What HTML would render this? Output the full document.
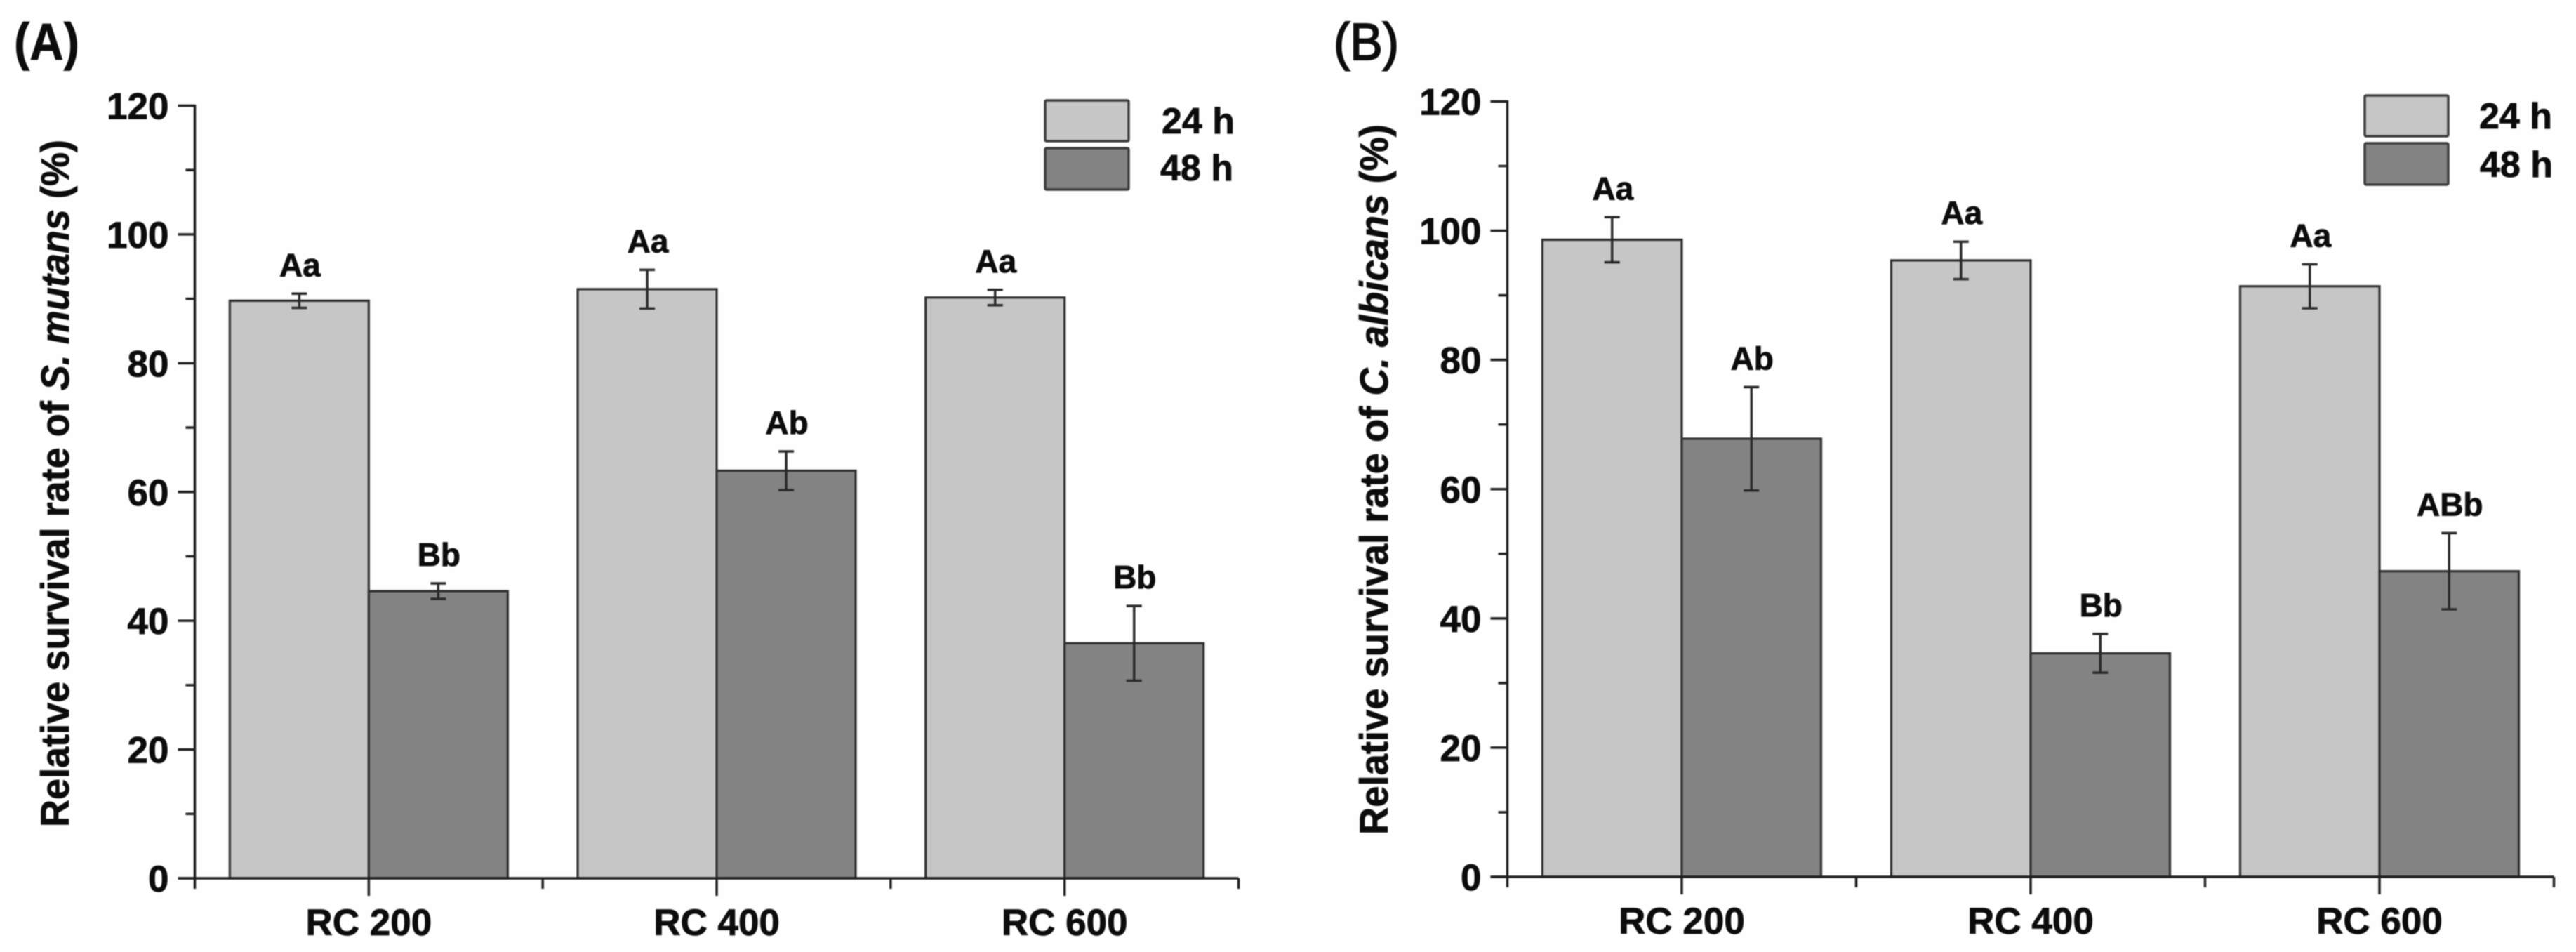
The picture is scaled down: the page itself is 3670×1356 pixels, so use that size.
<!DOCTYPE html>
<html lang="en">
<head>
<meta charset="utf-8">
<title>Relative survival rate of S. mutans and C. albicans</title>
<style>
  html, body { margin: 0; padding: 0; background: #fefefe; }
  body { width: 3670px; height: 1356px; overflow: hidden; }
  svg { display: block; filter: blur(0.9px); }
  text { font-family: "Liberation Sans", sans-serif; fill: #0c0c0c; stroke: #0c0c0c; stroke-width: 0.8px; }
  .bold { font-weight: bold; }
</style>
</head>
<body>
<svg id="figure" xmlns="http://www.w3.org/2000/svg" width="3670" height="1356" viewBox="0 0 3670 1356">
  <text class="bold" x="20" y="85" font-size="74" textLength="93" lengthAdjust="spacingAndGlyphs">(A)</text>
  <text x="1900" y="85" font-size="74" style="stroke-width:2px" textLength="93" lengthAdjust="spacingAndGlyphs">(B)</text>

  <g id="panel-a"></g>
  <g id="panel-b"></g>

  <text class="bold" font-size="57" transform="translate(98 1178) rotate(-90)" textLength="979" lengthAdjust="spacingAndGlyphs">Relative survival rate of <tspan font-style="italic">S. mutans</tspan> (%)</text>
  <text class="bold" font-size="57" transform="translate(1977 1189) rotate(-90)" textLength="1012" lengthAdjust="spacingAndGlyphs">Relative survival rate of <tspan font-style="italic">C. albicans</tspan> (%)</text>

  <g>
    <rect x="1489" y="143" width="119" height="58" rx="2" fill="#c6c6c6" stroke="#3c3c3c" stroke-width="3.5"/>
    <rect x="1489" y="211" width="119" height="59" rx="2" fill="#838383" stroke="#3c3c3c" stroke-width="3.5"/>
    <text class="bold" x="1655" y="190" font-size="52">24 h</text>
    <text class="bold" x="1653" y="257" font-size="52">48 h</text>
  </g>
  <g>
    <rect x="3369" y="136" width="119" height="58" rx="2" fill="#c6c6c6" stroke="#3c3c3c" stroke-width="3.5"/>
    <rect x="3369" y="204" width="119" height="59" rx="2" fill="#838383" stroke="#3c3c3c" stroke-width="3.5"/>
    <text class="bold" x="3532" y="183" font-size="52">24 h</text>
    <text class="bold" x="3533" y="252" font-size="52">48 h</text>
  </g>
</svg>

<script>
// Shared axis data
const categories = ['RC 200', 'RC 400', 'RC 600'];
const yTickLabels = [0, 20, 40, 60, 80, 100, 120];
const yMinorTicks = [10, 30, 50, 70, 90, 110];

// Panel A: S. mutans
const panelA24h = [89.7, 91.5, 90.2];
const panelA48h = [44.6, 63.3, 36.5];
const panelA24hError = [1.1, 3.0, 1.2];
const panelA48hError = [1.2, 3.0, 5.8];
const panelA24hLetters = ['Aa', 'Aa', 'Aa'];
const panelA48hLetters = ['Bb', 'Ab', 'Bb'];

// Panel B: C. albicans
const panelB24h = [98.6, 95.4, 91.4];
const panelB48h = [67.8, 34.6, 47.3];
const panelB24hError = [3.5, 2.9, 3.4];
const panelB48hError = [8.0, 3.0, 5.9];
const panelB24hLetters = ['Aa', 'Aa', 'Aa'];
const panelB48hLetters = ['Ab', 'Bb', 'ABb'];

const SVG_NS = 'http://www.w3.org/2000/svg';
const AXIS_COLOR = '#1f1f1f';
const BAR_STROKE = '#2f2f2f';

function make(parent, tag, attrs, text) {
  const el = document.createElementNS(SVG_NS, tag);
  for (const key in attrs) el.setAttribute(key, attrs[key]);
  if (text !== undefined) el.textContent = text;
  parent.appendChild(el);
  return el;
}

function drawPanel(root, layout, series24, series48, err24, err48, letters24, letters48) {
  const yScale = function (v) {
    return layout.baseY - (v / 120) * (layout.baseY - layout.topY);
  };
  const groupCenter = function (i) {
    return layout.axisX + layout.groupWidth * (i + 0.5);
  };
  const barWidth = layout.barWidth;

  function drawBar(i, value, side, fill, name) {
    const cx = groupCenter(i);
    const x = side === 0 ? cx - barWidth : cx;
    const bar = make(root, 'rect', {
      x: x, y: yScale(value), width: barWidth, height: layout.baseY - yScale(value),
      fill: fill, stroke: BAR_STROKE, 'stroke-width': 3.2
    });
    
    
  }

  function drawError(i, value, err, side, name) {
    const cx = groupCenter(i) + (side === 0 ? -barWidth / 2 : barWidth / 2);
    const hi = yScale(value + err);
    const lo = yScale(value - err);
    const stem = make(root, 'line', { x1: cx, x2: cx, y1: hi, y2: lo, stroke: '#2a2a2a', 'stroke-width': 3.5 });
    
    
    const capTop = make(root, 'line', { x1: cx - 11, x2: cx + 11, y1: hi, y2: hi, stroke: '#2a2a2a', 'stroke-width': 3.5 });
    
    
    const capBottom = make(root, 'line', { x1: cx - 11, x2: cx + 11, y1: lo, y2: lo, stroke: '#2a2a2a', 'stroke-width': 3.5 });
    
    
  }

  function drawLetter(i, value, err, side, letter, name) {
    const cx = groupCenter(i) + (side === 0 ? -barWidth / 2 : barWidth / 2);
    const label = make(root, 'text', {
      x: cx + 1, y: yScale(value + err) - 25, 'font-size': 46, 'font-weight': 'bold', 'text-anchor': 'middle'
    }, letter);
    
    
  }

  categories.forEach(function (cat, i) {
    drawBar(i, series24[i], 0, '#c6c6c6', 'bar-24h-' + i);
    drawBar(i, series48[i], 1, '#838383', 'bar-48h-' + i);
  });
  categories.forEach(function (cat, i) {
    drawError(i, series24[i], err24[i], 0, 'error-bar-24h-' + i);
    drawError(i, series48[i], err48[i], 1, 'error-bar-48h-' + i);
    drawLetter(i, series24[i], err24[i], 0, letters24[i], 'significance-24h-' + i);
    drawLetter(i, series48[i], err48[i], 1, letters48[i], 'significance-48h-' + i);
  });

  // Axes
  const rightX = layout.axisX + layout.groupWidth * categories.length;
  const yAxis = make(root, 'line', { x1: layout.axisX, x2: layout.axisX, y1: layout.topY - 1.5, y2: layout.baseY + 15, stroke: AXIS_COLOR, 'stroke-width': 3.5 });
  
  
  const xAxis = make(root, 'line', { x1: layout.axisX - 24, x2: rightX, y1: layout.baseY, y2: layout.baseY, stroke: AXIS_COLOR, 'stroke-width': 3.5 });
  
  

  yTickLabels.forEach(function (v) {
    const y = yScale(v);
    const tick = make(root, 'line', { x1: layout.axisX - 24, x2: layout.axisX, y1: y, y2: y, stroke: AXIS_COLOR, 'stroke-width': 3.5 });
    
    
    const label = make(root, 'text', { x: layout.axisX - 37, y: y + 19, 'font-size': 53, 'font-weight': 'bold', 'text-anchor': 'end' }, String(v));
    
    
  });
  yMinorTicks.forEach(function (v) {
    const y = yScale(v);
    const tick = make(root, 'line', { x1: layout.axisX - 13, x2: layout.axisX, y1: y, y2: y, stroke: AXIS_COLOR, 'stroke-width': 3.5 });
    
    
  });

  categories.forEach(function (cat, i) {
    const cx = groupCenter(i);
    const tick = make(root, 'line', { x1: cx, x2: cx, y1: layout.baseY, y2: layout.baseY + 25, stroke: AXIS_COLOR, 'stroke-width': 3.5 });
    
    
    const label = make(root, 'text', { x: cx, y: layout.labelY, 'font-size': 53, 'font-weight': 'bold', 'text-anchor': 'middle' }, cat);
    
    
    const edgeX = layout.axisX + layout.groupWidth * (i + 1);
    const edge = make(root, 'line', { x1: edgeX, x2: edgeX, y1: layout.baseY, y2: layout.baseY + 15, stroke: AXIS_COLOR, 'stroke-width': 3.5 });
    
    
  });
}

drawPanel(document.getElementById('panel-a'),
  { axisX: 277.5, topY: 150.5, baseY: 1251, groupWidth: 495.7, barWidth: 198, labelY: 1332 },
  panelA24h, panelA48h, panelA24hError, panelA48hError, panelA24hLetters, panelA48hLetters);

drawPanel(document.getElementById('panel-b'),
  { axisX: 2147.5, topY: 144.5, baseY: 1249, groupWidth: 497, barWidth: 198.5, labelY: 1330 },
  panelB24h, panelB48h, panelB24hError, panelB48hError, panelB24hLetters, panelB48hLetters);
</script>
</body>
</html>
